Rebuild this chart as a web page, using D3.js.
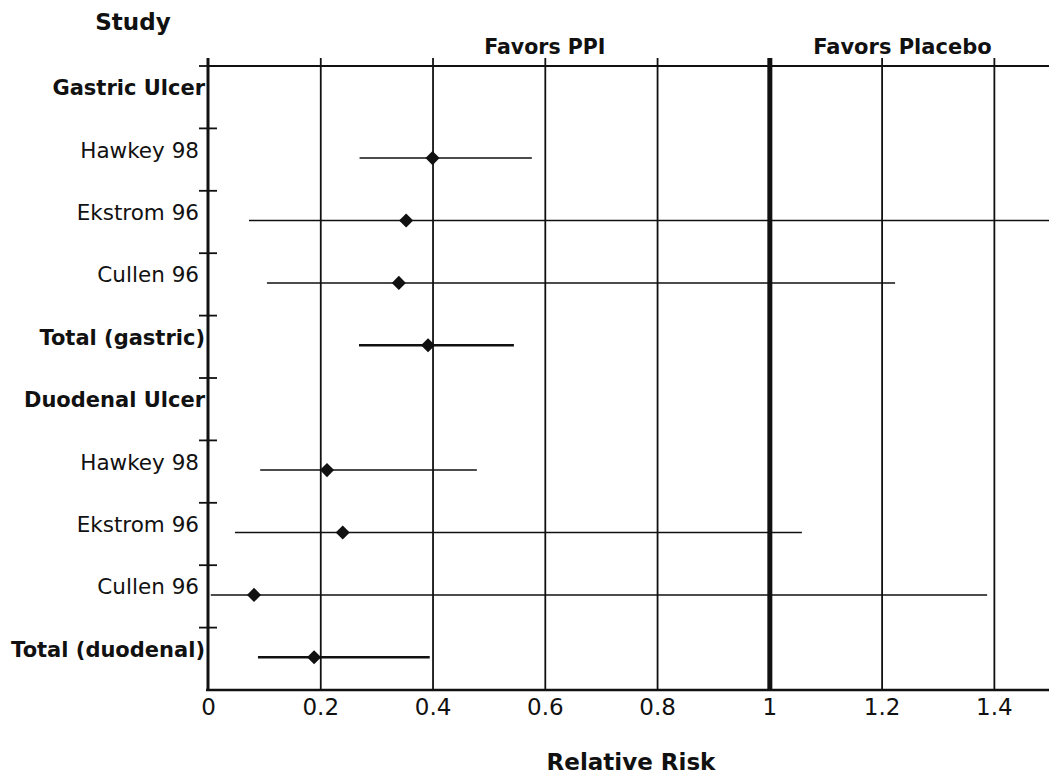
<!DOCTYPE html>
<html>
<head>
<meta charset="utf-8">
<script src="https://cdn.jsdelivr.net/npm/d3@7"></script>
<style>
  body { margin: 0; background: #fff; }
  text { font-family: "DejaVu Sans", sans-serif; fill: #111; }
</style>
</head>
<body>
<svg id="display"></svg>
<script>
"use strict";

var width = 1049,
    height = 777;

// rows of the forest plot, top to bottom
var studies = ["Gastric Ulcer", "Hawkey 98", "Ekstrom 96", "Cullen 96", "Total (gastric)",
               "Duodenal Ulcer", "Hawkey 98", "Ekstrom 96", "Cullen 96", "Total (duodenal)"];
var rowKind = ["group", "study", "study", "study", "total",
               "group", "study", "study", "study", "total"];
var rr     = [null, 0.40, 0.353, 0.34, 0.392, null, 0.212, 0.24, 0.082, 0.189];
var ciLow  = [null, 0.27, 0.073, 0.105, 0.269, null, 0.093, 0.048, 0.005, 0.089];
var ciHigh = [null, 0.577, 1.6, 1.224, 0.545, null, 0.479, 1.058, 1.388, 0.395];

var xTicks = [0, 0.2, 0.4, 0.6, 0.8, 1, 1.2, 1.4];
var xLabel = "Relative Risk";
var sideLabels = ["Favors PPI", "Favors Placebo"];

var svg = d3.select('#display').attr('width', width).attr('height', height);

var plotTop = 66, plotBottom = 690, plotLeft = 208;

var x = d3.scaleLinear().domain([0, 1.5]).range([plotLeft, 1050]);
var y = d3.scaleBand().domain(d3.range(studies.length)).range([plotTop, plotBottom]);

svg.append('defs').append('clipPath').attr('id', 'plotClip')
  .append('rect')
  .attr('x', plotLeft).attr('y', plotTop - 10)
  .attr('width', width - plotLeft).attr('height', plotBottom - plotTop + 10);

// vertical grid lines
var grid = svg.append('g')
  .attr('transform', 'translate(0,' + (plotTop - 8) + ')')
  .call(d3.axisBottom(x).tickValues(xTicks.slice(1)).tickSize(plotBottom - plotTop + 8).tickFormat(''));
grid.select('.domain').remove();
grid.selectAll('.tick line')
  .attr('stroke', '#111')
  .attr('stroke-width', function(d){ return d === 1 ? 5 : 1.8; });

// small tick above the frame at x = 0
svg.append('line')
  .attr('x1', x(0)).attr('x2', x(0))
  .attr('y1', plotTop - 8).attr('y2', plotTop)
  .attr('stroke', '#111').attr('stroke-width', 2);

// frame: top, left
svg.append('line')
  .attr('x1', plotLeft).attr('x2', width).attr('y1', plotTop).attr('y2', plotTop)
  .attr('stroke', '#111').attr('stroke-width', 2);
svg.append('line')
  .attr('x1', plotLeft).attr('x2', plotLeft).attr('y1', plotTop - 8).attr('y2', plotBottom)
  .attr('stroke', '#111').attr('stroke-width', 3);

// bottom axis with tick labels
var xAxis = svg.append('g')
  .attr('transform', 'translate(0,' + plotBottom + ')')
  .call(d3.axisBottom(x).tickValues(xTicks).tickSize(0).tickPadding(9)
    .tickFormat(function(d){ return String(d); }));
xAxis.select('.domain')
  .attr('d', 'M' + (plotLeft - 2) + ',0H' + width)
  .attr('stroke', '#111').attr('stroke-width', 2.5);
xAxis.selectAll('.tick text')
  .attr('font-family', '"DejaVu Sans", sans-serif')
  .attr('font-size', 23)
  .attr('fill', '#111');

// row separator ticks on the left axis
var bounds = d3.range(studies.length).map(function(i){ return y(i); });
svg.selectAll('.rowtick').data(bounds)
  .enter().append('line')
  .attr('class', 'rowtick')
  .attr('x1', plotLeft - 9).attr('x2', plotLeft + 9)
  .attr('y1', function(d){ return d; }).attr('y2', function(d){ return d; })
  .attr('stroke', '#111').attr('stroke-width', 1.8);

// row labels
svg.selectAll('.rowlabel').data(d3.range(studies.length))
  .enter().append('text')
  .attr('class', 'rowlabel')
  .attr('x', function(i){ return rowKind[i] === 'study' ? 199 : 205; })
  .attr('y', function(i){ return y(i) + y.bandwidth() / 2 - 2; })
  .attr('text-anchor', 'end')
  .attr('font-size', function(i){ return rowKind[i] === 'study' ? 21.5 : 21; })
  .attr('font-weight', function(i){ return rowKind[i] === 'study' ? 'normal' : 'bold'; })
  .text(function(i){ return studies[i]; });

// confidence intervals and point estimates
var rows = d3.range(studies.length).filter(function(i){ return rr[i] !== null; });
var plot = svg.append('g').attr('clip-path', 'url(#plotClip)');

plot.selectAll('.ci').data(rows)
  .enter().append('line')
  .attr('class', 'ci')
  .attr('x1', function(i){ return x(ciLow[i]); })
  .attr('x2', function(i){ return x(ciHigh[i]); })
  .attr('y1', function(i){ return y(i) + y.bandwidth() / 2 - 1.5; })
  .attr('y2', function(i){ return y(i) + y.bandwidth() / 2 - 1.5; })
  .attr('stroke', '#111')
  .attr('stroke-width', function(i){ return rowKind[i] === 'total' ? 2.6 : 1.5; });

plot.selectAll('.est').data(rows)
  .enter().append('path')
  .attr('class', 'est')
  .attr('d', d3.symbol(d3.symbolSquare, 100))
  .attr('transform', function(i){
    return 'translate(' + x(rr[i]) + ',' + (y(i) + y.bandwidth() / 2 - 1.5) + ') rotate(45)';
  })
  .attr('fill', '#111');

// titles
svg.append('text')
  .attr('x', 133).attr('y', 30)
  .attr('text-anchor', 'middle')
  .attr('font-size', 23).attr('font-weight', 'bold')
  .text('Study');

svg.append('text')
  .attr('x', x(0.6)).attr('y', 54)
  .attr('text-anchor', 'middle')
  .attr('font-size', 20.5).attr('font-weight', 'bold')
  .text(sideLabels[0]);

svg.append('text')
  .attr('x', x(1.237)).attr('y', 54)
  .attr('text-anchor', 'middle')
  .attr('font-size', 21).attr('font-weight', 'bold')
  .text(sideLabels[1]);

svg.append('text')
  .attr('x', 631).attr('y', 770)
  .attr('text-anchor', 'middle')
  .attr('font-size', 23).attr('font-weight', 'bold')
  .text(xLabel);
</script>
</body>
</html>
